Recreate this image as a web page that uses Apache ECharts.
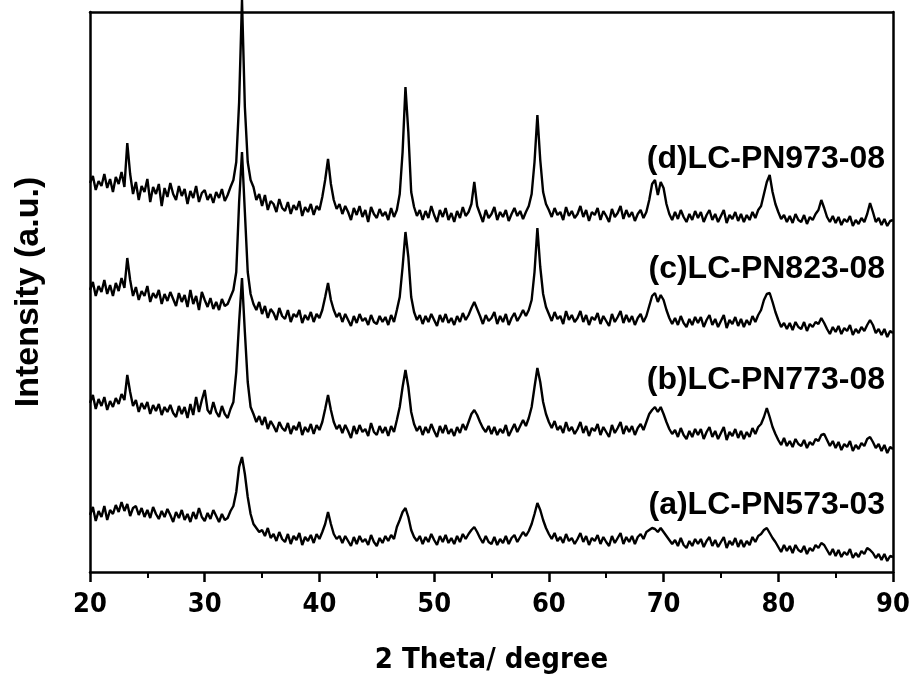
<!DOCTYPE html>
<html>
<head>
<meta charset="utf-8">
<script src="https://cdn.jsdelivr.net/npm/echarts@6/dist/echarts.min.js"></script>
<style>html,body{margin:0;padding:0;background:#fff;}#c{width:912px;height:675px;}</style>
</head>
<body>
<div id="c"></div>
<script>
// 2 theta sampling positions (degrees)
const theta = [
20,20.25,20.5,20.75,21,21.25,21.5,21.75,22,22.25,22.5,22.75,23,23.25,23.5,23.75,24,24.25,24.5,24.75,
25,25.25,25.5,25.75,26,26.25,26.5,26.75,27,27.25,27.5,27.75,28,28.25,28.5,28.75,29,29.25,29.5,29.75,
30,30.25,30.5,30.75,31,31.25,31.5,31.75,32,32.25,32.5,32.75,33,33.25,33.5,33.75,34,34.25,34.5,34.75,
35,35.25,35.5,35.75,36,36.25,36.5,36.75,37,37.25,37.5,37.75,38,38.25,38.5,38.75,39,39.25,39.5,39.75,
40,40.25,40.5,40.75,41,41.25,41.5,41.75,42,42.25,42.5,42.75,43,43.25,43.5,43.75,44,44.25,44.5,44.75,
45,45.25,45.5,45.75,46,46.25,46.5,46.75,47,47.25,47.5,47.75,48,48.25,48.5,48.75,49,49.25,49.5,49.75,
50,50.25,50.5,50.75,51,51.25,51.5,51.75,52,52.25,52.5,52.75,53,53.25,53.5,53.75,54,54.25,54.5,54.75,
55,55.25,55.5,55.75,56,56.25,56.5,56.75,57,57.25,57.5,57.75,58,58.25,58.5,58.75,59,59.25,59.5,59.75,
60,60.25,60.5,60.75,61,61.25,61.5,61.75,62,62.25,62.5,62.75,63,63.25,63.5,63.75,64,64.25,64.5,64.75,
65,65.25,65.5,65.75,66,66.25,66.5,66.75,67,67.25,67.5,67.75,68,68.25,68.5,68.75,69,69.25,69.5,69.75,
70,70.25,70.5,70.75,71,71.25,71.5,71.75,72,72.25,72.5,72.75,73,73.25,73.5,73.75,74,74.25,74.5,74.75,
75,75.25,75.5,75.75,76,76.25,76.5,76.75,77,77.25,77.5,77.75,78,78.25,78.5,78.75,79,79.25,79.5,79.75,
80,80.25,80.5,80.75,81,81.25,81.5,81.75,82,82.25,82.5,82.75,83,83.25,83.5,83.75,84,84.25,84.5,84.75,
85,85.25,85.5,85.75,86,86.25,86.5,86.75,87,87.25,87.5,87.75,88,88.25,88.5,88.75,89,89.25,89.5,89.75,
90
];

// (d) LC-PN973-08 (offset intensity, a.u.)
const seriesD = [
389,396,382,391, 386,398,384,393, 380,395,388,400, 385,429,398,378, 390,372,386,380,
393,370,385,378, 388,366,384,375, 389,378,372,386, 376,383,368,381, 374,386,370,379,
382,372,378,369, 380,374,383,371, 377,385,392,410, 470,572,465,410, 392,385,372,378,
366,377,362,371, 368,360,373,364, 361,370,358,367, 362,371,356,365, 360,368,357,366,
362,375,392,413, 388,372,363,368, 358,366,360,352, 364,357,366,355, 362,350,365,358,
354,363,356,360, 352,364,355,362, 378,420,485,440, 380,365,356,362, 352,361,354,366,
357,350,362,355, 364,352,359,350, 361,354,365,356, 360,368,390,366, 358,350,362,354,
358,365,352,360, 355,362,351,358, 364,356,361,353, 360,366,378,410, 457,412,380,368,
362,355,364,357, 360,352,365,356, 361,354,358,366, 355,362,351,360, 357,364,352,361,
356,350,363,355, 359,366,353,362, 355,360,351,358, 362,354,360,372, 388,392,377,390,
384,368,358,352, 360,353,362,355, 350,358,352,361, 354,360,350,357, 362,352,358,350,
356,362,349,357, 353,360,351,358, 350,357,352,360, 354,362,366,378, 390,397,380,368,
360,353,357,350, 356,349,358,352, 350,357,348,355, 352,358,362,372, 364,355,350,356,
349,355,347,353, 350,356,346,352, 348,354,350,358, 369,360,350,354, 347,353,346,351,
352
];

// (c) LC-PN823-08
const seriesC = [
282,290,276,286, 280,292,278,287, 276,289,281,294, 284,314,292,276, 285,272,281,276,
286,270,279,274, 282,268,278,271, 280,273,266,279, 270,277,265,282, 268,276,262,280,
272,265,274,263, 270,262,273,266, 268,275,282,300, 370,420,360,300, 278,268,262,270,
258,266,254,263, 259,252,264,256, 253,262,250,258, 255,262,249,257, 252,260,250,258,
254,262,275,289, 272,262,255,259, 250,258,252,246, 256,249,258,251, 254,247,257,250,
248,256,250,255, 247,257,250,262, 275,305,340,315, 275,260,252,257, 248,256,250,258,
252,246,257,250, 258,249,254,247, 256,250,259,252, 257,264,270,263, 256,248,257,251,
254,260,248,256, 250,258,247,254, 259,251,256,262, 256,262,272,300, 344,305,278,265,
258,251,260,253, 256,248,261,252, 257,250,254,261, 250,257,247,255, 252,259,248,256,
251,246,258,250, 255,261,249,257, 250,256,247,254, 258,250,256,266, 276,279,270,277,
272,262,254,248, 254,247,256,249, 245,253,247,255, 249,255,245,252, 257,247,253,245,
251,257,244,252, 248,255,246,253, 245,252,247,256, 250,257,262,272, 278,279,270,260,
252,245,249,243, 249,242,250,245, 243,250,241,248, 245,250,248,254, 249,243,238,245,
240,246,238,244, 241,247,237,243, 239,245,241,247, 252,247,239,243, 237,243,235,241,
239
];

// (b) LC-PN773-08
const seriesB = [
169,177,163,173, 166,175,162,171, 165,174,168,178, 172,197,180,166, 172,160,169,163,
170,158,167,161, 168,157,165,160, 167,159,155,166, 158,165,154,168, 157,175,160,172,
182,162,158,170, 160,155,166,158, 154,163,170,200, 250,294,240,190, 165,158,150,156,
147,155,143,151, 146,140,150,144, 141,149,138,146, 142,150,137,145, 140,148,138,147,
142,150,163,177, 162,150,143,147, 139,147,141,134, 146,138,147,140, 143,136,149,140,
137,146,139,145, 136,146,140,152, 165,185,202,185, 160,148,141,146, 137,145,139,148,
141,135,146,139, 147,138,143,136, 145,139,148,142, 150,158,162,157, 150,144,140,146,
138,145,137,143, 139,147,136,142, 148,140,146,152, 146,154,165,185, 204,190,170,158,
150,144,151,142, 146,139,150,141, 145,138,143,150, 139,146,136,144, 141,148,137,145,
140,135,147,139, 144,150,138,146, 140,146,137,144, 148,142,150,158, 162,165,160,165,
158,150,143,138, 142,135,144,137, 133,141,135,143, 137,143,133,140, 145,135,141,133,
139,145,132,140, 136,143,134,141, 133,140,135,144, 138,145,148,155, 164,155,145,138,
132,127,134,126, 131,125,133,128, 126,132,124,130, 127,133,131,137, 138,132,126,131,
124,130,122,128, 125,131,121,127, 123,129,126,133, 135,130,124,128, 121,127,119,125,
123
];

// (a) LC-PN573-03
const seriesA = [
57,65,51,61, 55,66,52,62, 58,67,60,70, 61,68,56,64, 66,57,64,55,
62,54,65,58, 53,61,55,63, 57,50,60,54, 62,52,58,50, 60,53,64,55,
51,59,53,62, 56,50,58,52, 54,61,66,80, 105,115,98,75, 58,48,44,40,
42,36,44,34, 38,31,40,33, 30,38,28,36, 32,39,27,35, 31,37,29,38,
33,40,48,60, 48,38,33,36, 29,36,31,26, 35,28,36,30, 33,27,37,30,
26,34,29,36, 31,37,33,45, 52,60,64,55, 42,35,31,36, 28,35,30,38,
32,27,36,30, 37,29,34,28, 36,30,38,33, 38,42,45,40, 34,29,36,30,
28,35,27,33, 29,36,28,34, 37,30,35,40, 36,41,48,58, 69,62,52,44,
38,33,39,31, 35,29,38,31, 34,28,33,39, 30,36,27,34, 31,37,28,35,
30,26,36,29, 34,39,28,35, 30,36,28,35, 38,33,40,42, 44,43,40,44,
40,36,32,28, 32,26,34,27, 24,31,26,33, 28,33,25,31, 35,26,32,25,
30,35,24,31, 27,34,25,32, 25,31,27,35, 30,36,38,42, 44,39,34,30,
25,20,27,21, 26,19,27,22, 20,26,18,24, 21,27,24,29, 27,22,17,23,
16,22,15,20, 17,23,14,19, 15,21,18,24, 22,19,14,18, 12,18,11,16,
15
];

const seriesNames = ['(d)LC-PN973-08', '(c)LC-PN823-08', '(b)LC-PN773-08', '(a)LC-PN573-03'];
const seriesValues = [seriesD, seriesC, seriesB, seriesA];
const labelTops = [143, 253, 364, 489];

const chart = echarts.init(document.getElementById('c'), null, {renderer: 'canvas'});
const narrow = "'Liberation Sans Narrow','DejaVu Sans Condensed',Arial,sans-serif";
const frameLine = {show: true, onZero: false, lineStyle: {color: '#000', width: 2.5}};

chart.setOption({
  backgroundColor: '#fff',
  animation: false,
  grid: {left: 90, right: 19, top: 12, bottom: 103, containLabel: false, outerBoundsMode: 'none'},
  xAxis: [{
    type: 'value', min: 20, max: 90, interval: 10,
    name: '2 Theta/ degree', nameLocation: 'middle', nameGap: 74,
    nameTextStyle: {fontFamily: narrow, fontWeight: 'bold', fontSize: 29, color: '#000'},
    axisLine: frameLine,
    axisTick: {show: true, inside: false, length: 10, lineStyle: {color: '#000', width: 2.5}},
    minorTick: {show: true, splitNumber: 2, length: 6, lineStyle: {color: '#000', width: 2}},
    axisLabel: {fontFamily: narrow, fontWeight: 'bold', fontSize: 27, color: '#000', margin: 19},
    splitLine: {show: false}
  }, {
    type: 'value', min: 20, max: 90, position: 'top',
    axisLine: frameLine, axisTick: {show: false}, axisLabel: {show: false}, splitLine: {show: false}
  }],
  yAxis: [{
    type: 'value', min: 0, max: 560,
    name: 'Intensity (a.u.)', nameLocation: 'middle', nameGap: 44, nameRotate: 90,
    nameTextStyle: {fontFamily: 'Liberation Sans, Arial, sans-serif', fontWeight: 'bold', fontSize: 34, color: '#000'},
    axisLine: frameLine, axisTick: {show: false}, axisLabel: {show: false}, splitLine: {show: false}
  }, {
    type: 'value', min: 0, max: 560, position: 'right',
    axisLine: frameLine, axisTick: {show: false}, axisLabel: {show: false}, splitLine: {show: false}
  }],
  graphic: seriesNames.map((n, i) => ({
    type: 'text', right: 27, top: labelTops[i],
    style: {text: n, fill: '#000', font: "bold 32px 'Liberation Sans', Arial, sans-serif"}
  })),
  series: seriesValues.map((vals, i) => ({
    type: 'line', name: seriesNames[i],
    data: theta.map((t, k) => [t, vals[k]]),
    showSymbol: false, clip: false,
    lineStyle: {color: '#000', width: 2.4},
    z: 3
  }))
});
</script>
</body>
</html>
